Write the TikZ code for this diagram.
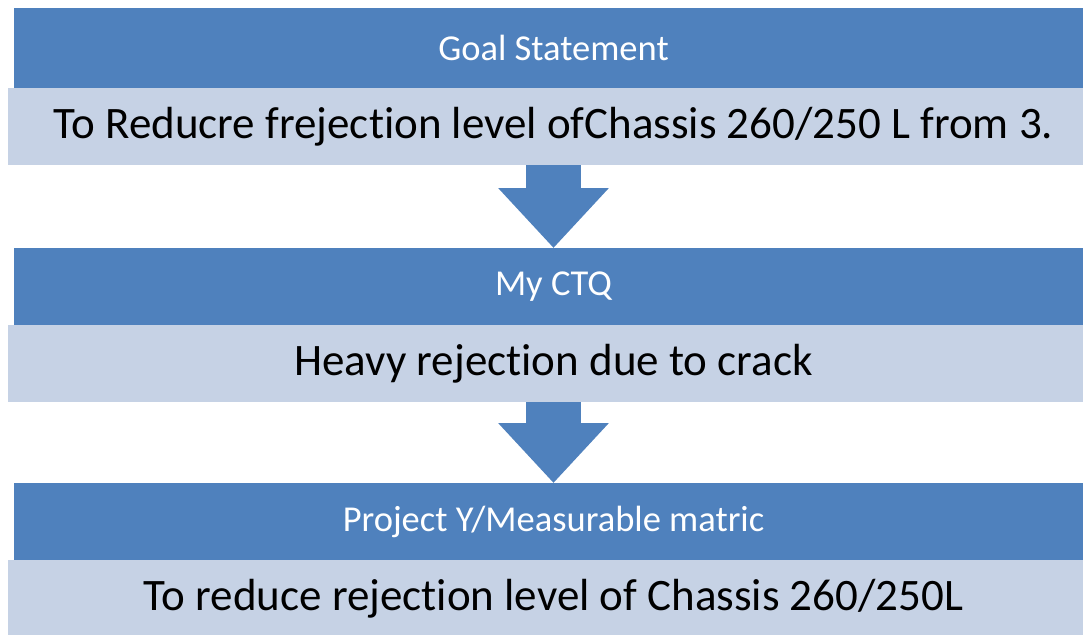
\documentclass[tikz,border=0pt]{standalone}
\usepackage{fontspec}
\setmainfont[Ligatures={NoCommon}]{Carlito}
\usetikzlibrary{arrows.meta}
\definecolor{hdrblue}{RGB}{79,129,189}
\definecolor{bodyblue}{RGB}{198,210,229}
\tikzset{
  hdr/.style={fill=hdrblue, draw=none, text=white, font=\fontsize{36.5}{42}\selectfont,
    minimum width=1079pt, minimum height=#1, inner sep=0pt, anchor=north},
  bodybox/.style={fill=bodyblue, draw=none, text=black, font=\fontsize{45}{52}\selectfont,
    minimum width=1091pt, minimum height=#1, inner sep=0pt, anchor=north},
  flowarrow/.style={draw=hdrblue, line width=55pt,
    -{Triangle[width=107pt,length=60pt,fill=hdrblue]}, shorten <=0pt},
}
\begin{document}
\begin{tikzpicture}[x=1pt,y=-1pt]
\useasboundingbox (0,0) rectangle (1083,634);
\fill[white] (0,0) rectangle (1083,634);
\clip (0,0) rectangle (1083,634);
\coordinate (ax) at (553.5,0);
% block 1
\node[hdr=80pt] (h1) at (553.5,8) {Goal Statement};
\node[bodybox=77pt] (b1) at (553.5,88) {To Reducre frejection level ofChassis 260/250 L from 3.};
% block 2
\node[hdr=77pt] (h2) at (553.5,248) {My CTQ};
\node[bodybox=77pt] (b2) at (553.5,325) {Heavy rejection due to crack};
% block 3
\node[hdr=77pt] (h3) at (553.5,483) {Project Y/Measurable matric};
\node[bodybox=77pt] (b3) at (553.5,560) {To reduce rejection level of Chassis 260/250L};
% arrows
\draw[flowarrow] (b1.south -| ax) -- (h2.north -| ax);
\draw[flowarrow] (b2.south -| ax) -- (h3.north -| ax);
\end{tikzpicture}
\end{document}
